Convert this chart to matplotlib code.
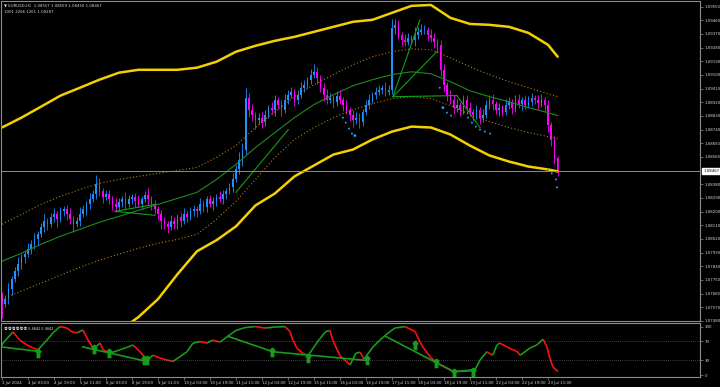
import matplotlib
matplotlib.use("Agg")
import matplotlib.pyplot as plt
from matplotlib.collections import LineCollection

plt.rcParams["font.family"] = ["DejaVu Sans", "Noto Sans CJK SC"]

# ---- data: EURUSD, 2-hour bars (bar 0 = 3 Jul 11:00) ----
CLOSES = [
    1.07591, 1.07624, 1.07690, 1.07756, 1.07808, 1.07854, 1.07900, 1.07920, 1.07953, 1.07985,
    1.08018, 1.08051, 1.08097, 1.08136, 1.08117, 1.08163, 1.08182, 1.08150, 1.08202, 1.08215,
    1.08182, 1.08150, 1.08117, 1.08136, 1.08182, 1.08215, 1.08248, 1.08281, 1.08314, 1.08379,
    1.08333, 1.08294, 1.08314, 1.08281, 1.08248, 1.08228, 1.08261, 1.08281, 1.08248, 1.08281,
    1.08294, 1.08268, 1.08248, 1.08281, 1.08307, 1.08281, 1.08248, 1.08215, 1.08182, 1.08136,
    1.08117, 1.08097, 1.08136, 1.08117, 1.08163, 1.08136, 1.08182, 1.08163, 1.08202, 1.08215,
    1.08202, 1.08248, 1.08228, 1.08281, 1.08248, 1.08268, 1.08294, 1.08281, 1.08314, 1.08333,
    1.08360, 1.08412, 1.08478, 1.08543, 1.08609, 1.08951, 1.08872, 1.08839, 1.08806, 1.08819,
    1.08793, 1.08839, 1.08885, 1.08872, 1.08937, 1.08905, 1.08872, 1.08937, 1.08970, 1.08990,
    1.08937, 1.08970, 1.09016, 1.09036, 1.09069, 1.09102, 1.09121, 1.09082, 1.09016, 1.08970,
    1.08937, 1.08951, 1.08924, 1.08964, 1.08937, 1.08905, 1.08872, 1.08839, 1.08806, 1.08819,
    1.08793, 1.08859, 1.08905, 1.08937, 1.08970, 1.08990, 1.09003, 1.09016, 1.08990, 1.09003,
    1.09410, 1.09430, 1.09364, 1.09331, 1.09318, 1.09345, 1.09331, 1.09364, 1.09384, 1.09397,
    1.09397, 1.09364, 1.09345, 1.09318, 1.09299, 1.09134, 1.09036, 1.08970, 1.08937, 1.08885,
    1.08905, 1.08872, 1.08937, 1.08885, 1.08859, 1.08839, 1.08872, 1.08819, 1.08839, 1.08905,
    1.08937, 1.08911, 1.08872, 1.08885, 1.08859, 1.08905, 1.08924, 1.08885, 1.08937, 1.08911,
    1.08937, 1.08905, 1.08924, 1.08951, 1.08937, 1.08918, 1.08937, 1.08905, 1.08773, 1.08675,
    1.08556, 1.08467,
]
FIRST_OPEN = 1.07650
# wick lengths beyond the body, in pips
UP_WICK = [
    2, 3, 4, 2, 3, 5, 2, 3, 4, 3, 4, 2, 3, 5, 2, 3, 4, 2, 3, 2,
    3, 4, 2, 3, 5, 3, 2, 4, 3, 6, 4, 2, 3, 3, 2, 4, 3, 2, 5, 3,
    2, 3, 4, 2, 3, 5, 2, 3, 2, 3, 3, 2, 4, 3, 2, 3, 4, 2, 3, 3,
    2, 4, 3, 2, 3, 3, 2, 4, 3, 2, 3, 4, 3, 5, 4, 6, 3, 4, 2, 3,
    4, 3, 2, 4, 3, 2, 3, 4, 3, 3, 2, 3, 4, 3, 2, 4, 5, 3, 2, 3,
    4, 3, 2, 3, 4, 2, 3, 2, 3, 4, 3, 2, 3, 4, 2, 3, 3, 2, 4, 3,
    6, 4, 3, 2, 4, 3, 2, 5, 3, 4, 3, 2, 4, 3, 2, 3, 4, 2, 3, 3,
    4, 2, 3, 3, 4, 2, 3, 2, 4, 3, 3, 4, 2, 3, 2, 4, 3, 2, 3, 4,
    2, 3, 4, 3, 2, 3, 4, 2, 3, 2, 2, 1,
]
DN_WICK = [
    9, 2, 3, 4, 2, 3, 3, 4, 2, 3, 3, 4, 2, 3, 4, 2, 3, 5, 2, 3,
    4, 3, 5, 2, 3, 2, 4, 3, 2, 3, 3, 4, 2, 3, 4, 3, 2, 3, 4, 2,
    3, 4, 2, 3, 2, 3, 4, 3, 4, 5, 3, 4, 2, 3, 3, 4, 2, 3, 2, 3,
    4, 2, 3, 3, 2, 4, 3, 2, 3, 3, 2, 3, 2, 3, 4, 3, 5, 4, 6, 3,
    4, 3, 2, 3, 4, 3, 4, 2, 3, 2, 4, 3, 2, 3, 2, 3, 2, 4, 3, 4,
    3, 2, 4, 3, 3, 4, 3, 4, 5, 3, 4, 3, 2, 3, 2, 3, 2, 3, 3, 2,
    3, 4, 3, 4, 3, 2, 3, 4, 3, 2, 3, 4, 3, 4, 5, 4, 5, 4, 3, 4,
    3, 4, 3, 4, 3, 4, 3, 4, 3, 2, 3, 4, 3, 4, 3, 2, 3, 4, 3, 3,
    4, 3, 2, 3, 3, 4, 3, 4, 5, 4, 4, 3,
]

# channel lines sampled every 6 bars
BAND_IDX = [0, 6, 12, 18, 24, 30, 36, 42, 48, 54, 60, 66, 72, 78, 84,
            90, 96, 102, 108, 114, 120, 126, 132, 138, 144, 150, 156, 162, 168, 171]
OUTER_UP = [1.08754, 1.08819, 1.08891, 1.08964, 1.09016, 1.09069, 1.09115, 1.09134, 1.09134, 1.09134,
            1.09148, 1.09187, 1.09253, 1.09292, 1.09325, 1.09351, 1.09384, 1.09417, 1.09450, 1.09463,
            1.09509, 1.09555, 1.09561, 1.09476, 1.09436, 1.09430, 1.09417, 1.09377, 1.09299, 1.09220]
OUTER_DN = [1.07066, 1.07132, 1.07197, 1.07250, 1.07309, 1.07362, 1.07414, 1.07506, 1.07624, 1.07788,
            1.07939, 1.08012, 1.08103, 1.08241, 1.08320, 1.08432, 1.08504, 1.08576, 1.08609, 1.08675,
            1.08727, 1.08760, 1.08754, 1.08708, 1.08635, 1.08570, 1.08530, 1.08497, 1.08478, 1.08465]
MID_LINE = [1.07874, 1.07926, 1.07985, 1.08038, 1.08084, 1.08130, 1.08169, 1.08209, 1.08248, 1.08287,
            1.08327, 1.08412, 1.08511, 1.08622, 1.08721, 1.08819, 1.08905, 1.08970, 1.09029, 1.09069,
            1.09102, 1.09121, 1.09108, 1.09056, 1.08996, 1.08957, 1.08924, 1.08885, 1.08852, 1.08832]
INNER_UP = [1.08117, 1.08182, 1.08248, 1.08301, 1.08346, 1.08386, 1.08412, 1.08432, 1.08452, 1.08471,
            1.08491, 1.08557, 1.08635, 1.08754, 1.08859, 1.08957, 1.09036, 1.09102, 1.09167, 1.09220,
            1.09253, 1.09272, 1.09266, 1.09213, 1.09154, 1.09102, 1.09056, 1.09016, 1.08977, 1.08957]
INNER_DN = [1.07624, 1.07677, 1.07729, 1.07782, 1.07834, 1.07880, 1.07920, 1.07959, 1.07992, 1.08018,
            1.08051, 1.08150, 1.08268, 1.08412, 1.08557, 1.08675, 1.08754, 1.08819, 1.08872, 1.08911,
            1.08944, 1.08957, 1.08944, 1.08898, 1.08839, 1.08793, 1.08754, 1.08721, 1.08694, 1.08681]

# hand-drawn trend lines on price: (bar, price) pairs
PRICE_TRENDS = [
    [(120.3, 1.08957), (128.6, 1.09463)],
    [(120.3, 1.08957), (133.8, 1.09253)],
    [(120.3, 1.08957), (140.0, 1.08964)],
    [(140.0, 1.08964), (147.1, 1.08754)],
    [(72.0, 1.08327), (88.1, 1.08740)],
    [(34.8, 1.08202), (47.1, 1.08248)],
    [(34.8, 1.08202), (47.1, 1.08176)],
]
DOT_IDX = [104.9, 105.8, 106.8, 107.7, 108.6, 134.7, 135.7, 136.9, 138.2,
           143.4, 144.6, 145.8, 147.1, 148.6, 150.2, 168.0, 169.2, 170.5, 170.8]
DOT_PRICE = [1.08819, 1.08786, 1.08747, 1.08714, 1.08701, 1.09016, 1.08885, 1.08852, 1.08832,
             1.08819, 1.08786, 1.08760, 1.08740, 1.08727, 1.08714, 1.08478, 1.08452, 1.08412, 1.08360]
DOT_SIZE = [2, 2, 2, 2, 4, 2, 4, 2, 2, 2, 2, 2, 2, 2, 2, 2, 2, 2, 2]

LAST_PRICE = 1.08467
PRICE_TICKS = [1.09550, 1.09460, 1.09370, 1.09280, 1.09190, 1.09100, 1.09010, 1.08920,
               1.08830, 1.08740, 1.08650, 1.08560, 1.08380, 1.08290, 1.08200, 1.08110,
               1.08020, 1.07930, 1.07840, 1.07750, 1.07660, 1.07570, 1.07480]
TIME_LABELS = ["3 Jul 2024", "4 Jul 03:00", "4 Jul 19:00", "5 Jul 11:00", "8 Jul 03:00",
               "8 Jul 19:00", "9 Jul 11:00", "10 Jul 03:00", "10 Jul 19:00", "11 Jul 11:00",
               "12 Jul 03:00", "12 Jul 19:00", "15 Jul 11:00", "16 Jul 03:00", "16 Jul 19:00",
               "17 Jul 11:00", "18 Jul 03:00", "18 Jul 19:00", "19 Jul 11:00", "22 Jul 03:00",
               "22 Jul 19:00", "23 Jul 11:00"]
TIME_LABEL_IDX = [8 * k for k in range(len(TIME_LABELS))]

# oscillator (0..100)
OSC_IDX = [-0.3, 0.3, 3.4, 4.6, 5.5, 7.7, 9.5, 11.1, 13.8, 15.7, 17.8, 20.0, 21.5, 23.1, 24.9,
           26.5, 28.0, 29.2, 30.2, 31.1, 33.2, 36.3, 38.8, 40.3, 42.5, 44.6, 46.5, 48.6, 50.8,
           52.6, 54.8, 56.9, 58.8, 60.9, 63.1, 64.9, 67.1, 69.5, 72.0, 74.8, 77.8, 80.9, 84.0,
           87.1, 88.6, 89.5, 90.8, 92.6, 94.2, 95.7, 97.8, 99.7, 100.9, 101.8, 104.0, 107.1,
           108.9, 110.2, 111.4, 114.2, 116.3, 118.5, 120.9, 124.0, 127.1, 128.5, 129.5, 131.7,
           133.8, 136.9, 138.8, 140.9, 144.0, 145.5, 147.1, 149.2, 150.8, 151.2, 152.3, 153.2,
           155.4, 157.2, 158.5, 159.4, 160.3, 162.5, 164.6, 166.5, 167.7, 168.6, 169.5, 171.1]
OSC_VAL = [58, 66, 89, 79, 72, 62, 56, 52, 72, 87, 100, 97, 89, 87, 93,
           72, 56, 60, 66, 52, 45, 52, 58, 62, 48, 31, 41, 35, 31,
           28, 38, 48, 66, 69, 66, 72, 68, 80, 92, 98, 100, 97, 99,
           100, 90, 72, 55, 45, 40, 55, 75, 90, 92, 72, 40, 21,
           45, 47, 33, 58, 72, 85, 97, 100, 90, 70, 58, 38,
           25, 14, 7, 8, 10, 10, 31, 48, 41, 43, 62, 66,
           58, 52, 49, 41, 45, 56, 62, 74, 58, 35, 17, 7]
OSC_TRENDS = [
    [(-0.3, 58), (11.1, 49)],
    [(24.9, 58), (44.6, 28)],
    [(69.5, 80), (83.4, 48)],
    [(83.4, 48), (112.3, 30)],
    [(118.0, 80), (133.8, 25), (139.1, 7), (145.0, 9)],
]
ARROW_IDX = [11.1, 28.3, 32.9, 43.7, 44.6, 83.1, 94.2, 112.3, 127.1, 133.5, 139.1, 145.0]
ARROW_VAL = [46, 54, 45, 30, 30, 48, 35, 31, 62, 25, 4, 6]
OSC_TICKS = [0, 30, 70, 100]

BULL, BEAR = "#1e90ff", "#ff00ff"
GREY = "#8c8c8c"
TXT = "#d8d8d8"
FS = 2.8

fig = plt.figure(figsize=(7.2, 3.87), dpi=100, facecolor="black")
ax = fig.add_axes([1 / 720, 1 - 321 / 387, 699 / 720, 320 / 387], facecolor="black")
osc = fig.add_axes([1 / 720, 1 - 377 / 387, 699 / 720, 54 / 387], facecolor="black", sharex=ax)

# candles
opens = [FIRST_OPEN] + CLOSES[:-1]
for i, (o, c) in enumerate(zip(opens, CLOSES)):
    col = BULL if c >= o else BEAR
    hi = max(o, c) + UP_WICK[i] / 1e4
    lo = min(o, c) - DN_WICK[i] / 1e4
    ax.vlines(i, lo, hi, color=col, lw=0.6)
    ax.bar(i, max(abs(c - o), 0.00002), bottom=min(o, c), width=0.5, color=col, lw=0)

ax.plot(BAND_IDX, OUTER_UP, color="#f5d000", lw=1.8, solid_capstyle="round")
ax.plot(BAND_IDX, OUTER_DN, color="#f5d000", lw=1.8, solid_capstyle="round")
ax.plot(BAND_IDX, MID_LINE, color="#1f8a1f", lw=0.8)
ax.plot(BAND_IDX, INNER_UP, color="#b07d10", lw=0.8, ls=(0, (1, 2)))
ax.plot(BAND_IDX, INNER_DN, color="#b07d10", lw=0.8, ls=(0, (1, 2)))
for seg in PRICE_TRENDS:
    xs, ys = zip(*seg)
    ax.plot(xs, ys, color="#11a011", lw=0.8)
ax.scatter(DOT_IDX, DOT_PRICE, s=DOT_SIZE, color="#2a9df4", lw=0, zorder=5)

ax.axhline(LAST_PRICE, color=GREY, lw=0.7)

ax.set_xlim(-0.3, 214.8)
ax.set_ylim(1.07486, 1.09587)
ax.yaxis.tick_right()
ax.set_yticks(PRICE_TICKS)
ax.set_yticklabels([f"{p:.5f}" for p in PRICE_TICKS])
ax.tick_params(axis="y", colors=GREY, labelcolor=TXT, labelsize=FS, length=2, width=0.5, pad=1.5)
ax.tick_params(axis="x", bottom=False, labelbottom=False)
for side in ["top", "bottom", "left", "right"]:
    ax.spines[side].set_color(GREY)
    ax.spines[side].set_linewidth(0.8)
ax.annotate(f"{LAST_PRICE:.5f}", xy=(1.0, LAST_PRICE), xycoords=("axes fraction", "data"),
            xytext=(2.2, 0), textcoords="offset points", va="center", ha="left",
            fontsize=FS, color="black",
            bbox=dict(boxstyle="square,pad=0.2", fc="white", ec="white"))
ax.text(0.004, 0.993, "\u25bc EURUSD,H1  1.08557 1.08559 1.08450 1.08467", transform=ax.transAxes,
        ha="left", va="top", fontsize=FS, color=TXT)
ax.text(0.004, 0.972, "1001 2266 1261 1.09287", transform=ax.transAxes,
        ha="left", va="top", fontsize=FS, color=TXT)

# oscillator
pts = list(zip(OSC_IDX, OSC_VAL))
segs = [[pts[k], pts[k + 1]] for k in range(len(pts) - 1)]
cols = ["#ff1010" if pts[k + 1][1] < pts[k][1] else "#1a9a1a" for k in range(len(pts) - 1)]
osc.add_collection(LineCollection(segs, colors=cols, linewidths=1.2))
for seg in OSC_TRENDS:
    xs, ys = zip(*seg)
    osc.plot(xs, ys, color="#1a9a1a", lw=1.2)
osc.plot(ARROW_IDX, ARROW_VAL, ls="none", marker=r"$\Uparrow$", ms=6, color="#1a9a1a")
for lvl in (30, 70):
    osc.axhline(lvl, color="#7a7a7a", lw=0.5, ls=(0, (1, 2)))
osc.set_ylim(-4.1, 107.4)
osc.yaxis.tick_right()
osc.set_yticks(OSC_TICKS)
osc.set_yticklabels([str(v) for v in OSC_TICKS])
osc.set_xticks(TIME_LABEL_IDX)
osc.set_xticklabels(TIME_LABELS, ha="left")
osc.tick_params(axis="both", colors=GREY, labelcolor=TXT, labelsize=FS, length=2, width=0.5, pad=1.2)
for side in ["top", "bottom", "left", "right"]:
    osc.spines[side].set_color(GREY)
    osc.spines[side].set_linewidth(0.8)
osc.text(0.004, 0.93, "\u5377\u5377\u5377\u5377\u5377\u5377 0.4842 0.4842", transform=osc.transAxes,
         ha="left", va="top", fontsize=FS, color=TXT,
         family=["Noto Sans CJK SC", "DejaVu Sans"])

fig.savefig("out.png", dpi=100, facecolor="black")
